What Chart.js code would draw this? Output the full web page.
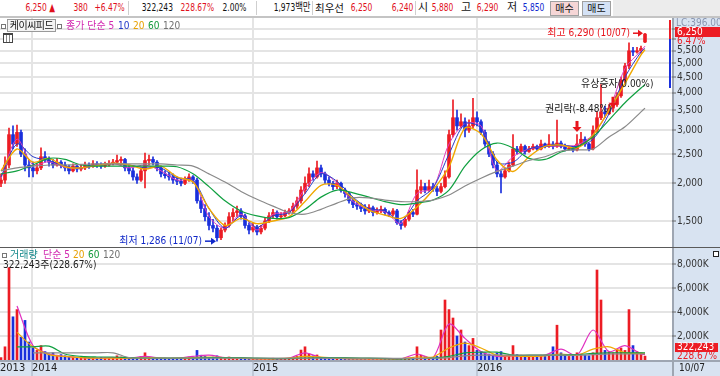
<!DOCTYPE html>
<html lang="ko">
<head>
<meta charset="utf-8">
<title>케이씨피드</title>
<script src="https://cdn.jsdelivr.net/npm/chart.js@4.4.1/dist/chart.umd.min.js"></script>
<style>
  html, body { margin: 0; padding: 0; }
  body { width: 720px; height: 376px; position: relative; overflow: hidden; background: #fff;
         font-family: "Liberation Sans Narrow", "DejaVu Sans Condensed", "Noto Sans CJK KR", sans-serif; color: #111; }
  .abs { position: absolute; white-space: nowrap; }
  #head { left: 0; top: 0; width: 720px; height: 16px; border-bottom: 2px solid #c4c4c4; background: #fff; font-size: 11px; line-height: 16px; z-index: 2; }
  #head .t { position: absolute; top: 0; white-space: nowrap; }
  #head .n { transform: scaleX(0.76); transform-origin: 100% 50%; }
  .sep { position: absolute; top: 1px; width: 1px; height: 14px; background: #cfcfcf; }
  .r { color: #e0101c; }
  .b { color: #1028d0; }
  .btn { position: absolute; top: 1px; height: 13px; width: 27px; line-height: 13px; text-align: center; font-size: 10px; border: 1px solid #a0a0a0; }
  canvas { position: absolute; left: 0; }
  .lg { font-size: 10px; line-height: 12px; z-index: 2; }
  .sq { position: absolute; width: 3px; height: 3px; border: 1px solid #777; background: #fff; }
</style>
</head>
<body>
<div id="head" class="abs">
  <span class="t n r" style="right:665px">6,250 ▲</span>
  <span class="t n r" style="right:632px">380</span>
  <span class="t n r" style="right:595px">+6.47%</span>
  <i class="sep" style="left:128px"></i>
  <span class="t n" style="right:547px">322,243</span>
  <span class="t n r" style="right:506px">228.67%</span>
  <span class="t n" style="right:474px">2.00%</span>
  <i class="sep" style="left:256px"></i>
  <span class="t n" style="right:409px">1,973백만</span>
  <i class="sep" style="left:312px"></i>
  <span class="t" style="left:315px;font-size:10.5px">최우선</span>
  <span class="t n r" style="right:348px">6,250</span>
  <span class="t n r" style="right:307px">6,240</span>
  <i class="sep" style="left:415px"></i>
  <span class="t" style="left:418px">시</span>
  <span class="t n r" style="right:267px">5,880</span>
  <span class="t" style="left:461px">고</span>
  <span class="t n r" style="right:222px">6,290</span>
  <span class="t" style="left:507px">저</span>
  <span class="t n b" style="right:176px">5,850</span>
  <span class="btn" style="left:550px;background:#f6d6d6">매수</span>
  <span class="btn" style="left:582px;background:#d4e2f6">매도</span>
  <i style="position:absolute;left:613px;top:0;width:107px;height:16px;background:#ececec"></i>
</div>

<canvas id="priceChart" width="720" height="229" style="top:18px"></canvas>
<div class="abs" style="left:0;top:247px;width:720px;height:1px;background:#5a5a5a"></div>
<canvas id="volumeChart" width="720" height="128" style="top:248px"></canvas>

<div class="abs lg" style="left:0;top:20px;width:180px;height:12px">
  <i class="sq" style="left:1px;top:4px"></i>
  <span class="abs" style="left:7px;top:-1px;width:47px;height:11px;line-height:11px;border:1px solid #9a9a9a;background:#f4f4f4;text-align:center;letter-spacing:-0.5px">케이씨피드</span>
  <i class="sq" style="left:57px;top:4px"></i>
  <span class="abs" style="left:66px;top:0;color:#d22ab0">종가 단순 5</span>
  <span class="abs" style="left:118px;top:0;color:#2038c8">10</span>
  <span class="abs" style="left:133px;top:0;color:#e8a000">20</span>
  <span class="abs" style="left:148px;top:0;color:#109838">60</span>
  <span class="abs" style="left:163px;top:0;color:#707070">120</span>
</div>
<div class="abs" style="left:3px;top:33px;width:8px;height:7px;border:1px solid #444;border-top-width:2px;background:repeating-linear-gradient(90deg,#fff 0 2px,#888 2px 3px);z-index:2"></div>

<div class="abs lg" style="left:0;top:249px;width:200px;height:12px">
  <i class="sq" style="left:2px;top:4px"></i>
  <span class="abs" style="left:10px;top:0;color:#14888a">거래량</span>
  <span class="abs" style="left:43px;top:0;color:#d22ab0">단순 5</span>
  <span class="abs" style="left:73px;top:0;color:#e8a000">20</span>
  <span class="abs" style="left:88px;top:0;color:#109838">60</span>
  <span class="abs" style="left:103px;top:0;color:#707070">120</span>
</div>
<div class="abs lg" style="left:3px;top:259px;color:#222">322,243주(228.67%)</div>
<div class="abs" style="left:713px;top:251px;width:4px;height:4px;border:1px solid #222;background:#fff;z-index:2"></div>

<script>
// 일봉 (가격, 원) - 화면에서 읽은 값
const open = [
  2000, 2050, 2300, 2900, 2700, 2950, 2500, 2300, 2250, 2200,
  2250, 2450, 2400, 2350, 2300, 2350, 2300, 2250, 2200, 2280,
  2230, 2250, 2300, 2280, 2320, 2300, 2280, 2300, 2330, 2350,
  2380, 2400, 2250, 2200, 2100, 2050, 2200, 2380, 2400, 2350,
  2250, 2150, 2120, 2100, 2050, 2030, 2000, 2050, 2100, 2050,
  1750, 1650, 1550, 1450, 1420, 1320, 1400, 1450, 1550, 1600,
  1620, 1560, 1450, 1400, 1430, 1380, 1420, 1500, 1560, 1600,
  1550, 1560, 1600, 1620, 1680, 1750, 1900, 2000, 2150, 2100,
  2250, 2150, 2050, 2000, 1950, 2000, 1900, 1850, 1750, 1700,
  1680, 1650, 1620, 1660, 1600, 1620, 1640, 1600, 1580, 1620,
  1480, 1450, 1520, 1600, 1580, 1900, 1950, 1900, 1950, 1920,
  1880, 1950, 2100, 2900, 3300, 3100, 3200, 3000, 3100, 3300,
  3200, 2950, 2700, 2500, 2300, 2150, 2100, 2200, 2300, 2600,
  2550, 2650, 2550, 2600, 2650, 2600, 2700, 2650, 2700, 2650,
  2720, 2650, 2600, 2620, 2580, 2700, 2800, 2700, 2600, 3000,
  3300, 3450, 3400, 3550, 3650, 3900, 4400, 4900, 5500, 5450,
  5500, 5880
];
const high = [
  2150, 2450, 3050, 3100, 3120, 3000, 2600, 2400, 2350, 2320,
  2620, 2550, 2450, 2400, 2420, 2380, 2350, 2300, 2320, 2300,
  2300, 2350, 2340, 2380, 2360, 2340, 2350, 2380, 2400, 2480,
  2450, 2420, 2300, 2250, 2150, 2250, 2520, 2480, 2450, 2380,
  2280, 2200, 2180, 2150, 2100, 2080, 2100, 2150, 2120, 2080,
  1800, 1700, 1600, 1520, 1450, 1420, 1480, 1600, 1650, 1680,
  1650, 1580, 1480, 1480, 1450, 1450, 1530, 1600, 1640, 1620,
  1600, 1630, 1650, 1720, 1800, 1950, 2100, 2250, 2200, 2370,
  2300, 2180, 2100, 2030, 2050, 2020, 1930, 1870, 1780, 1740,
  1720, 1700, 1700, 1680, 1660, 1680, 1660, 1620, 1650, 1640,
  1500, 1540, 1620, 1640, 2215, 2050, 2000, 2050, 2000, 1960,
  2000, 2200, 3000, 3780, 3500, 3400, 3300, 3250, 3830, 3450,
  3250, 3000, 2750, 2550, 2350, 2200, 2250, 2350, 2900, 2650,
  2700, 2680, 2650, 2700, 2680, 2780, 2720, 2900, 2750, 3240,
  2760, 2700, 2660, 2650, 2900, 2950, 2850, 2720, 3100, 3450,
  4250, 3600, 3650, 3750, 4000, 4500, 5000, 5850, 5650, 5650,
  5700, 6290
];
const low = [
  1950, 2000, 2250, 2600, 2650, 2450, 2200, 2100, 2100, 2150,
  2220, 2350, 2280, 2250, 2280, 2250, 2200, 2150, 2180, 2180,
  2200, 2220, 2240, 2260, 2260, 2240, 2260, 2280, 2300, 2320,
  2300, 2200, 2150, 2050, 2000, 2030, 1930, 2300, 2300, 2200,
  2100, 2080, 2050, 2000, 1980, 1960, 1980, 2030, 2000, 1720,
  1600, 1500, 1400, 1380, 1286, 1300, 1380, 1430, 1500, 1550,
  1520, 1420, 1360, 1380, 1350, 1360, 1400, 1480, 1540, 1520,
  1530, 1550, 1580, 1600, 1650, 1720, 1850, 1950, 2050, 2080,
  2100, 2000, 1960, 1900, 1920, 1870, 1800, 1720, 1660, 1640,
  1610, 1580, 1600, 1560, 1580, 1600, 1570, 1550, 1560, 1460,
  1410, 1430, 1500, 1550, 1570, 1850, 1860, 1880, 1880, 1820,
  1860, 1930, 2080, 2850, 3000, 3050, 2850, 2950, 3050, 3100,
  2900, 2650, 2450, 2250, 2100, 1860, 2080, 2180, 2280, 2500,
  2520, 2500, 2530, 2580, 2570, 2580, 2620, 2630, 2600, 2630,
  2620, 2560, 2580, 2540, 2560, 2680, 2650, 2560, 2580, 2950,
  3250, 3300, 3380, 3450, 3600, 3850, 4300, 4800, 5300, 5400,
  5400, 5850
];
const close = [
  2050, 2300, 2900, 2700, 2950, 2500, 2300, 2250, 2200, 2250,
  2450, 2400, 2350, 2300, 2350, 2300, 2250, 2200, 2280, 2230,
  2250, 2300, 2280, 2320, 2300, 2280, 2300, 2330, 2350, 2380,
  2400, 2250, 2200, 2100, 2050, 2200, 2380, 2400, 2350, 2250,
  2150, 2120, 2100, 2050, 2030, 2000, 2050, 2100, 2050, 1750,
  1650, 1550, 1450, 1420, 1320, 1400, 1450, 1550, 1600, 1620,
  1560, 1450, 1400, 1430, 1380, 1420, 1500, 1560, 1600, 1550,
  1560, 1600, 1620, 1680, 1750, 1900, 2000, 2150, 2100, 2250,
  2150, 2050, 2000, 1950, 2000, 1900, 1850, 1750, 1700, 1680,
  1650, 1620, 1660, 1600, 1620, 1640, 1600, 1580, 1620, 1480,
  1450, 1520, 1600, 1580, 1900, 1950, 1900, 1950, 1920, 1880,
  1950, 2100, 2900, 3300, 3100, 3200, 3000, 3100, 3300, 3200,
  2950, 2700, 2500, 2300, 2150, 2100, 2200, 2300, 2600, 2550,
  2650, 2550, 2600, 2650, 2600, 2700, 2650, 2700, 2650, 2720,
  2650, 2600, 2620, 2580, 2700, 2800, 2700, 2600, 3000, 3300,
  3450, 3400, 3550, 3650, 3900, 4400, 4900, 5500, 5450, 5500,
  5600, 6250
];
// 거래량 (천주)
const volume = [
  200, 1100, 7700, 3600, 4200, 1900, 3300, 1500, 1000, 800,
  1200, 700, 500, 600, 400, 450, 350, 300, 250, 200,
  200, 250, 150, 180, 150, 200, 150, 120, 180, 350,
  250, 200, 150, 200, 150, 300, 600, 250, 150, 150,
  120, 150, 100, 150, 120, 150, 200, 250, 150, 800,
  400, 300, 200, 250, 350, 200, 150, 250, 200, 150,
  150, 100, 120, 100, 100, 80, 100, 120, 150, 100,
  80, 100, 120, 150, 300, 830, 1100, 500, 350, 420,
  200, 150, 120, 100, 150, 100, 80, 100, 80, 60,
  80, 60, 80, 100, 80, 60, 80, 60, 100, 80,
  100, 120, 150, 200, 1100, 400, 300, 200, 150, 300,
  2500, 5000, 4200, 3500, 2000, 2500, 1500, 1200, 1800, 800,
  700, 600, 500, 400, 600, 700, 350, 400, 1200, 450,
  400, 300, 350, 250, 300, 400, 300, 350, 1100, 2900,
  600, 400, 300, 350, 600, 500, 400, 350, 600, 7500,
  5000, 800, 700, 600, 900, 1000, 800, 4200, 1200, 700,
  600, 322
];

// 이동평균 (읽은 지점의 봉 번호와 값)
const maIdx = [0, 4, 8, 12, 16, 20, 24, 28, 32, 36, 40, 44, 48, 52, 56, 60, 64, 68, 72, 76, 80,
  84, 88, 92, 96, 100, 104, 108, 112, 116, 120, 124, 128, 132, 136, 140, 144, 148, 152, 156, 160, 161];
const ma5 = [2080, 2800, 2300, 2360, 2260, 2250, 2300, 2330, 2250, 2300, 2200, 2050, 2050, 1550, 1420, 1580,
  1400, 1580, 1610, 1920, 2170, 2000, 1740, 1640, 1610, 1470, 1850, 1930, 2700, 3150, 3100, 2200, 2450,
  2600, 2650, 2660, 2680, 2900, 3500, 4800, 5500, 5700];
const ma10 = [2100, 2700, 2450, 2380, 2280, 2250, 2290, 2320, 2300, 2250, 2250, 2080, 2050, 1650, 1420, 1560,
  1430, 1560, 1600, 1850, 2150, 2030, 1800, 1650, 1620, 1500, 1750, 1930, 2500, 3150, 3050, 2350, 2350,
  2600, 2650, 2680, 2650, 2800, 3400, 4500, 5450, 5600];
const ma20 = [2200, 2600, 2350, 2420, 2270, 2250, 2290, 2330, 2300, 2230, 2280, 2100, 2020, 1650, 1450, 1530,
  1470, 1500, 1550, 1740, 1970, 1970, 1780, 1630, 1570, 1530, 1670, 1900, 2270, 3050, 2920, 2390, 2190,
  2450, 2650, 2680, 2620, 2890, 3500, 4290, 5330, 5550];
const ma60 = [2150, 2200, 2300, 2420, 2400, 2300, 2280, 2280, 2280, 2280, 2280, 2270, 2150, 1950, 1750, 1620,
  1560, 1530, 1540, 1640, 1800, 1900, 1860, 1800, 1740, 1700, 1720, 1760, 1900, 2280, 2580, 2720, 2620,
  2420, 2400, 2540, 2640, 2850, 3240, 3700, 4140, 4250];
const ma120 = [2200, 2250, 2280, 2300, 2300, 2310, 2320, 2320, 2320, 2320, 2320, 2300, 2280, 2150, 2020, 1880,
  1770, 1680, 1600, 1580, 1640, 1720, 1790, 1790, 1760, 1740, 1740, 1760, 1830, 1960, 2080, 2190, 2280,
  2380, 2450, 2560, 2580, 2600, 2850, 3080, 3450, 3550];
const volMa5 = [null, 4500, 1200, 500, 300, 200, 150, 200, 150, 300, 150, 150, 300, 400, 200, 150, 100, 100,
  150, 600, 200, 150, 100, 100, 100, 100, 500, 200, 3000, 1800, 700, 300, 350, 300, 400, 900, 400, 2500,
  700, 1200, 500, 450];
const volMa20 = [null, 2300, 1100, 450, 300, 200, 150, 150, 150, 200, 150, 150, 200, 250, 200, 150, 100, 100,
  150, 300, 250, 150, 100, 100, 100, 100, 250, 250, 1000, 1400, 1000, 400, 350, 300, 350, 500, 400, 900,
  1100, 600, 550, 550];
const volMa60 = [null, 1100, 1100, 1150, 500, 300, 250, 250, 200, 150, 150, 150, 150, 200, 200, 200, 150, 120,
  120, 150, 200, 200, 180, 150, 120, 100, 120, 150, 300, 600, 650, 650, 400, 400, 400, 400, 450, 550, 600,
  600, 600, 600];
const volMa120 = [null, null, 600, 600, 600, 600, 600, 600, 200, 150, 150, 150, 150, 150, 150, 150, 150, 150,
  150, 150, 150, 150, 150, 150, 150, 130, 130, 150, 200, 350, 400, 400, 400, 400, 400, 400, 400, 450, 500,
  500, 500, 500];

// 축 눈금
const priceTicks = [1500, 2000, 2500, 3000, 3500, 4000, 4500, 5000, 5500, 6000, 6500];
const volTicks = [2000, 4000, 6000, 8000];
const yearIdx = [-0.25, 7.75, 63, 119];
const yearLabels = ['2013', '2014', '2015', '2016'];
const lastDate = '10/07';

// 표시
const hiIdx = 161, hiDate = '10/07';
const loIdx = 54, loDate = '11/07';
const eventIdx = [144, 153];
const eventPrice = [2960, 3560];
const eventLabels = ['권리락(-8.48%)', '유상증자(0.00%)'];
const lcText = 'LC:396.00';
const lastChange = '6.47%';
const lastVolRatio = '228.67%';
const lastVolume = 322243;

const FONT = '"Liberation Sans Narrow", "DejaVu Sans Condensed", "Noto Sans CJK KR", sans-serif';
const PANEL = '#d8e3f1';
const UP = '#ec1c24', DOWN = '#1a30dc';
const GRID = '#e4e4e4';

const idx = close.map((_, i) => i);
const candleColor = idx.map(i => close[i] >= open[i] ? UP : DOWN);
const fmt = v => Math.round(v).toLocaleString('en-US');

function paintPanels(chart) {
  const { ctx, chartArea: a, width, height } = chart;
  ctx.save();
  ctx.fillStyle = '#fff';
  ctx.fillRect(0, 0, width, height);
  ctx.fillStyle = PANEL;
  ctx.fillRect(a.right, 0, width - a.right, height);
  ctx.fillRect(0, a.bottom, width, height - a.bottom);
  ctx.strokeStyle = '#9ea6b2';
  ctx.lineWidth = 2;
  ctx.beginPath();
  ctx.moveTo(a.right + 1, 0);
  ctx.lineTo(a.right + 1, height);
  ctx.stroke();
  if (a.bottom < height - 1) {
    ctx.beginPath();
    ctx.moveTo(0, a.bottom + 1);
    ctx.lineTo(width, a.bottom + 1);
    ctx.stroke();
  }
  ctx.restore();
}

function hArrow(ctx, x0, x1, y) {
  ctx.beginPath();
  ctx.moveTo(x0, y);
  ctx.lineTo(x1 - 4, y);
  ctx.stroke();
  ctx.beginPath();
  ctx.moveTo(x1, y);
  ctx.lineTo(x1 - 5, y - 3.5);
  ctx.lineTo(x1 - 5, y + 3.5);
  ctx.closePath();
  ctx.fill();
}

function downArrow(ctx, x, tipY) {
  ctx.fillRect(x - 1.5, tipY - 11, 3, 6);
  ctx.beginPath();
  ctx.moveTo(x - 4.5, tipY - 5);
  ctx.lineTo(x + 4.5, tipY - 5);
  ctx.lineTo(x, tipY);
  ctx.closePath();
  ctx.fill();
}

const pricePlugin = {
  id: 'priceMarks',
  beforeDraw: paintPanels,
  afterDatasetsDraw(chart) {
    const { ctx, scales: { x, y } } = chart;
    ctx.save();
    ctx.font = '10px ' + FONT;
    ctx.textBaseline = 'middle';
    ctx.lineWidth = 1.5;

    // 최고
    let px = x.getPixelForValue(hiIdx), py = y.getPixelForValue(high[hiIdx]);
    ctx.fillStyle = ctx.strokeStyle = '#e8141c';
    ctx.textAlign = 'right';
    ctx.fillText('최고 ' + fmt(high[hiIdx]) + ' (' + hiDate + ')', px - 15, py);
    hArrow(ctx, px - 12, px - 2, py);

    // 최저
    px = x.getPixelForValue(loIdx);
    py = y.getPixelForValue(low[loIdx]);
    ctx.fillStyle = ctx.strokeStyle = '#1028c8';
    ctx.fillText('최저 ' + fmt(low[loIdx]) + ' (' + loDate + ')', px - 15, py);
    hArrow(ctx, px - 12, px - 1, py);

    // 권리락 / 유상증자
    ctx.textAlign = 'left';
    eventIdx.forEach((ei, k) => {
      const ex = x.getPixelForValue(ei), ey = y.getPixelForValue(eventPrice[k]);
      ctx.fillStyle = '#e8141c';
      downArrow(ctx, ex, ey);
      ctx.fillStyle = '#222';
      ctx.fillText(eventLabels[k], ex - 32, ey - 23);
    });
    ctx.restore();
  },
  afterDraw(chart) {
    const { ctx, chartArea: a } = chart;
    const r = a.right;
    ctx.save();
    ctx.fillStyle = UP;
    ctx.fillRect(r - 3, 2, 2, 19);
    ctx.fillStyle = DOWN;
    ctx.fillRect(r - 3, 21, 2, 49);
    ctx.font = '10px ' + FONT;
    ctx.textBaseline = 'middle';
    ctx.textAlign = 'left';
    ctx.fillStyle = '#8a96b0';
    ctx.fillText(lcText, r + 4, 5);
    ctx.fillStyle = UP;
    ctx.fillRect(r + 3, 9, 45, 10);
    ctx.fillStyle = '#fff';
    ctx.fillText(fmt(close[close.length - 1]), r + 5, 14.5);
    ctx.fillStyle = UP;
    ctx.fillText(lastChange, r + 5, 23.5);
    ctx.restore();
  }
};

const volumePlugin = {
  id: 'volumeMarks',
  beforeDraw: paintPanels,
  afterDraw(chart) {
    const { ctx, chartArea: a } = chart;
    const r = a.right;
    ctx.save();
    ctx.font = '10px ' + FONT;
    ctx.textBaseline = 'middle';
    ctx.textAlign = 'left';
    ctx.fillStyle = UP;
    ctx.fillRect(r + 3, 95, 43, 9);
    ctx.fillStyle = '#fff';
    ctx.fillText(fmt(lastVolume), r + 5, 99.5);
    ctx.fillStyle = UP;
    ctx.fillText(lastVolRatio, r + 5, 108.5);
    ctx.fillStyle = '#222';
    ctx.fillText(lastDate, r + 7, 120);
    ctx.restore();
  }
};

function line(data, color, width) {
  return {
    type: 'line',
    data: maIdx.map((d, k) => ({ x: d, y: data[k] })),
    borderColor: color,
    borderWidth: width || 1.2,
    pointRadius: 0,
    tension: 0.3,
    spanGaps: false,
    order: 0
  };
}

const xBase = {
  type: 'linear',
  min: -0.25,
  max: 167.75,
  offset: false,
  border: { display: false }
};

function fixY(scale) {
  scale.width = 48;
  scale.paddingTop = 0;
  scale.paddingBottom = 0;
}

const axisTicks = { padding: 1, color: '#333', font: { family: FONT, size: 10 } };

new Chart(document.getElementById('priceChart'), {
  type: 'bar',
  data: {
    datasets: [
      line(ma120, '#8a8a8a'),
      line(ma60, '#10a040'),
      line(ma20, '#f0a800', 1.4),
      line(ma10, '#2a3cc8', 1),
      line(ma5, '#e03cc0', 1),
      {
        data: idx.map(i => ({ x: i, y: [low[i], high[i]] })),
        backgroundColor: candleColor,
        barThickness: 1,
        grouped: false,
        order: 1
      },
      {
        data: idx.map(i => ({ x: i, y: [open[i], close[i]] })),
        backgroundColor: candleColor,
        barThickness: 3,
        minBarLength: 1,
        grouped: false,
        order: 1
      }
    ]
  },
  options: {
    responsive: false,
    animation: false,
    devicePixelRatio: 1,
    layout: { padding: 0 },
    plugins: { legend: { display: false }, tooltip: { enabled: false } },
    scales: {
      x: Object.assign({}, xBase, {
        grid: { color: GRID, lineWidth: 2, drawTicks: false, offset: false },
        ticks: { display: false },
        afterBuildTicks(s) { s.ticks = yearIdx.slice(1).map(v => ({ value: v })); },
        afterFit(s) { s.height = 0; s.paddingLeft = 0; s.paddingRight = 0; }
      }),
      y: {
        type: 'logarithmic',
        position: 'right',
        min: 1230,
        max: 7065,
        border: { display: false },
        grid: { color: GRID, lineWidth: 2, tickLength: 4, tickColor: '#666', tickWidth: 1 },
        ticks: Object.assign({}, axisTicks, { callback: v => (v >= 6000 ? '' : fmt(v)) }),
        afterBuildTicks(s) { s.ticks = priceTicks.map(v => ({ value: v })); },
        afterFit: fixY
      }
    }
  },
  plugins: [pricePlugin]
});

new Chart(document.getElementById('volumeChart'), {
  type: 'bar',
  data: {
    datasets: [
      line(volMa120, '#8a8a8a'),
      line(volMa60, '#10a040'),
      line(volMa20, '#f0a800'),
      line(volMa5, '#e030c0'),
      {
        data: idx.map(i => ({ x: i, y: volume[i] })),
        backgroundColor: candleColor,
        barThickness: 2,
        grouped: false,
        order: 1
      }
    ]
  },
  options: {
    responsive: false,
    animation: false,
    devicePixelRatio: 1,
    layout: { padding: 0 },
    plugins: { legend: { display: false }, tooltip: { enabled: false } },
    scales: {
      x: Object.assign({}, xBase, {
        position: 'bottom',
        grid: {
          offset: false,
          lineWidth: 2,
          color: c => (c.index === 0 ? 'rgba(0,0,0,0)' : GRID),
          tickColor: c => (c.index === 0 ? 'rgba(0,0,0,0)' : '#a4aebd'),
          tickLength: 16,
          tickWidth: 1
        },
        ticks: {
          align: 'start',
          autoSkip: false,
          maxRotation: 0,
          padding: -14,
          color: '#222',
          font: { family: FONT, size: 11 },
          callback: (v, k) => yearLabels[k]
        },
        afterBuildTicks(s) { s.ticks = yearIdx.map(v => ({ value: v })); },
        afterFit(s) { s.height = 16; s.paddingLeft = 0; s.paddingRight = 0; }
      }),
      y: {
        position: 'right',
        min: 0,
        max: 9333,
        border: { display: false },
        grid: { color: GRID, lineWidth: 2, tickLength: 4, tickColor: '#666', tickWidth: 1 },
        ticks: Object.assign({}, axisTicks, { callback: v => fmt(v) + 'K' }),
        afterBuildTicks(s) { s.ticks = volTicks.map(v => ({ value: v })); },
        afterFit: fixY
      }
    }
  },
  plugins: [volumePlugin]
});
</script>
</body>
</html>
